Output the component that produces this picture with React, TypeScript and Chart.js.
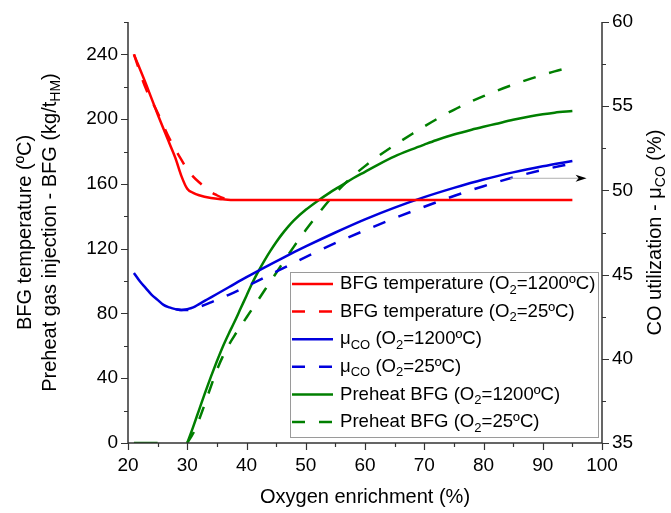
import React, { useEffect, useRef } from 'react';
import { Chart, registerables } from 'chart.js';

Chart.register(...registerables);

// ---------- DATA ----------
const redSolidX = [21, 23, 25, 27, 28, 29, 30, 31, 32, 34, 36, 38, 45, 55, 65, 75, 85, 95];
const redSolidY = [240, 222, 203, 185, 176, 165, 157, 154.5, 153, 151.3, 150.5, 150, 150, 150, 150, 150, 150, 150];

const redDashX = [21, 23, 25, 27, 29, 30, 31, 32, 33, 34, 35, 36, 37];
const redDashY = [240, 219, 204, 188, 175, 169, 164.5, 161, 158, 155, 153, 151.3, 150.3];

const blueSolidX = [21, 22, 23, 24, 25, 26, 27, 28, 29, 30, 31, 32, 33, 34, 35, 37, 40, 43, 46, 50, 55, 60, 65, 70, 75, 80, 85, 90, 95];
const blueSolidY = [45.1, 44.6, 44.2, 43.8, 43.5, 43.2, 43.05, 42.95, 42.9, 42.95, 43.05, 43.25, 43.45, 43.65, 43.85, 44.25, 44.85, 45.42, 45.97, 46.67, 47.5, 48.28, 48.98, 49.6, 50.15, 50.65, 51.07, 51.43, 51.75];

const blueDashX = [28, 29, 30, 32, 34, 37, 40, 44, 48, 52, 56, 60, 65, 70, 75, 80, 85, 90, 95];
const blueDashY = [42.95, 42.9, 42.9, 43.08, 43.35, 43.8, 44.3, 45.0, 45.7, 46.38, 47.03, 47.63, 48.35, 49.03, 49.67, 50.25, 50.77, 51.22, 51.6];

const greenSolidX = [21, 25, 27, 30, 31, 32, 33, 34, 35, 36, 37, 38, 39, 40, 41, 42, 43, 44, 45, 46, 47, 48, 50, 52, 54, 56, 58, 60, 62, 65, 68, 70, 72, 75, 78, 80, 82, 85, 88, 90, 92, 95];
const greenSolidY: (number | null)[] = [0, 0, null, 0, 10, 20.5, 31, 41, 50.5, 59.5, 67.5, 75, 83, 91, 99, 106, 112.5, 118.5, 124, 129, 133.5, 137.5, 144, 149.5, 154.5, 159, 163.5, 167.5, 171.5, 177, 181.5, 184.3, 187, 190.5, 193.5, 195.3, 197, 199.6, 201.8, 203, 204, 205];

const greenDashX = [30, 31, 32, 33, 34, 35, 36, 37, 38, 39, 40, 41, 42, 43, 44, 45, 46, 47, 48, 50, 52, 54, 56, 58, 60, 62, 65, 68, 70, 72, 75, 78, 80, 82, 85, 88, 90, 92, 95];
const greenDashY = [0, 6, 14.5, 24.5, 35, 45, 53.5, 60.5, 66.5, 72, 77.5, 83, 88.5, 94, 99.5, 105, 110.5, 116, 121.3, 131.5, 141, 150, 158, 165, 171, 176.5, 184, 191, 195.5, 199.8, 205.8, 211, 214.2, 217.2, 221.3, 225, 227.3, 229.5, 232.3];

const legendLabels = [
  'BFG temperature (O_{2}=1200ºC)',
  'BFG temperature (O_{2}=25ºC)',
  'μ_{CO} (O_{2}=1200ºC)',
  'μ_{CO} (O_{2}=25ºC)',
  'Preheat BFG (O_{2}=1200ºC)',
  'Preheat BFG (O_{2}=25ºC)',
];

const xTitle = 'Oxygen enrichment (%)';
const yTitle1 = 'BFG temperature (ºC)';
const yTitle2 = 'Preheat gas injection - BFG (kg/t_{HM})';
const y1Title = 'CO utilization - μ_{CO} (%)';

// arrow (points to right axis): x from / to, at right-axis value
const arrowX = [84.5, 97.4];
const arrowY = 50.72;

const RED = '#FF0000';
const BLUE = '#0000DD';
const GREEN = '#007F00';
const DASH = [13, 14];
const FONT = '"Liberation Sans", Arial, Helvetica, sans-serif';

function pts(xs: number[], ys: (number | null)[]) {
  return xs.map((x, i) => ({ x, y: ys[i] }));
}

function parseRich(s: string) {
  const parts: { t: string; sub: boolean }[] = [];
  const re = /_\{([^}]*)\}/g;
  let last = 0;
  let m: RegExpExecArray | null;
  while ((m = re.exec(s))) {
    if (m.index > last) parts.push({ t: s.slice(last, m.index), sub: false });
    parts.push({ t: m[1], sub: true });
    last = re.lastIndex;
  }
  if (last < s.length) parts.push({ t: s.slice(last), sub: false });
  return parts;
}

function drawRich(ctx: CanvasRenderingContext2D, s: string, x: number, y: number, size: number, align: 'left' | 'center') {
  const parts = parseRich(s);
  const f = (sub: boolean) => `${sub ? Math.round(size * 0.72) : size}px ${FONT}`;
  let w = 0;
  for (const p of parts) {
    ctx.font = f(p.sub);
    w += ctx.measureText(p.t).width;
  }
  let cx = align === 'center' ? x - w / 2 : x;
  ctx.textAlign = 'left';
  ctx.textBaseline = 'middle';
  for (const p of parts) {
    ctx.font = f(p.sub);
    ctx.fillText(p.t, cx, p.sub ? y + size * 0.32 : y);
    cx += ctx.measureText(p.t).width;
  }
}

const decorPlugin = {
  id: 'decor',
  afterDraw(chart: any) {
    const { ctx, chartArea: ca, scales } = chart;
    const sx = scales.x, sy = scales.y, sy1 = scales.y1;
    ctx.save();
    // axis lines
    ctx.strokeStyle = '#333';
    ctx.lineWidth = 1.5;
    ctx.setLineDash([]);
    ctx.beginPath();
    ctx.moveTo(ca.left, ca.top);
    ctx.lineTo(ca.left, ca.bottom);
    ctx.lineTo(ca.right, ca.bottom);
    ctx.moveTo(ca.right, ca.top);
    ctx.lineTo(ca.right, ca.bottom);
    ctx.stroke();
    // ticks
    ctx.lineWidth = 1.2;
    ctx.beginPath();
    for (let v = 20; v <= 100; v += 5) {
      const p = Math.round(sx.getPixelForValue(v)) + 0.5;
      const len = v % 10 === 0 ? 7 : 4;
      ctx.moveTo(p, ca.bottom);
      ctx.lineTo(p, ca.bottom + len);
    }
    for (let v = 0; v <= 260; v += 20) {
      const p = Math.round(sy.getPixelForValue(v)) + 0.5;
      const len = v % 40 === 0 ? 7 : 4;
      ctx.moveTo(ca.left, p);
      ctx.lineTo(ca.left - len, p);
    }
    for (let v = 35; v <= 60; v += 2.5) {
      const p = Math.round(sy1.getPixelForValue(v)) + 0.5;
      const len = v % 5 === 0 ? 7 : 4;
      ctx.moveTo(ca.right, p);
      ctx.lineTo(ca.right + len, p);
    }
    ctx.stroke();

    // arrow
    const ax0 = sx.getPixelForValue(arrowX[0]);
    const ax1 = sx.getPixelForValue(arrowX[1]);
    const ay = sy1.getPixelForValue(arrowY);
    ctx.strokeStyle = '#b0b0b0';
    ctx.lineWidth = 1;
    ctx.beginPath();
    ctx.moveTo(ax0, ay);
    ctx.lineTo(ax1 - 8, ay);
    ctx.stroke();
    ctx.fillStyle = '#000';
    ctx.beginPath();
    ctx.moveTo(ax1, ay);
    ctx.lineTo(ax1 - 11, ay - 3.5);
    ctx.lineTo(ax1 - 8, ay);
    ctx.lineTo(ax1 - 11, ay + 3.5);
    ctx.closePath();
    ctx.fill();

    // legend
    const lx = 290, ly = 272, lw = 308, lh = 165;
    ctx.fillStyle = '#fff';
    ctx.fillRect(lx, ly, lw, lh);
    ctx.strokeStyle = '#9a9a9a';
    ctx.lineWidth = 1;
    ctx.strokeRect(lx + 0.5, ly + 0.5, lw, lh);
    const dsets = chart.data.datasets;
    for (let i = 0; i < legendLabels.length; i++) {
      const ry = 284 + i * 27.6;
      const ds = dsets[i];
      ctx.strokeStyle = ds.borderColor;
      ctx.lineWidth = ds.borderWidth;
      ctx.lineCap = 'butt';
      ctx.setLineDash(ds.borderDash || []);
      ctx.lineDashOffset = 0;
      ctx.beginPath();
      ctx.moveTo(292, ry);
      ctx.lineTo(333, ry);
      ctx.stroke();
      ctx.setLineDash([]);
      ctx.fillStyle = '#000';
      drawRich(ctx, legendLabels[i], 340, ry, 18.6, 'left');
    }

    // titles
    const cy = (ca.top + ca.bottom) / 2;
    ctx.fillStyle = '#000';
    drawRich(ctx, xTitle, (ca.left + ca.right) / 2, 497, 20, 'center');
    const rot = (x: number, s: string) => {
      ctx.save();
      ctx.translate(x, cy);
      ctx.rotate(-Math.PI / 2);
      drawRich(ctx, s, 0, 0, 20, 'center');
      ctx.restore();
    };
    rot(25, yTitle1);
    rot(50, yTitle2);
    rot(655, y1Title);
    ctx.restore();
  },
};

export default function App() {
  const ref = useRef<HTMLCanvasElement | null>(null);
  useEffect(() => {
    document.body.style.margin = '0';
    const canvas = ref.current!;
    const common = { pointRadius: 0, borderWidth: 2.5, fill: false, cubicInterpolationMode: 'monotone' as const, spanGaps: false };
    const chart = new Chart(canvas, {
      type: 'line',
      data: {
        datasets: [
          { ...common, label: 'red solid', data: pts(redSolidX, redSolidY), borderColor: RED, yAxisID: 'y' },
          { ...common, label: 'red dash', data: pts(redDashX, redDashY), borderColor: RED, borderDash: DASH, yAxisID: 'y' },
          { ...common, label: 'blue solid', data: pts(blueSolidX, blueSolidY), borderColor: BLUE, yAxisID: 'y1' },
          { ...common, label: 'blue dash', data: pts(blueDashX, blueDashY), borderColor: BLUE, borderDash: DASH, yAxisID: 'y1' },
          { ...common, label: 'green solid', data: pts(greenSolidX, greenSolidY), borderColor: GREEN, yAxisID: 'y' },
          { ...common, label: 'green dash', data: pts(greenDashX, greenDashY), borderColor: GREEN, borderDash: DASH, yAxisID: 'y' },
        ] as any,
      },
      options: {
        animation: false,
        responsive: false,
        devicePixelRatio: 1,
        layout: { padding: { top: 22, left: 0, right: 0, bottom: 0 } },
        plugins: { legend: { display: false }, tooltip: { enabled: false } },
        scales: {
          x: {
            type: 'linear',
            min: 20,
            max: 100,
            grid: { display: false, drawTicks: true, tickLength: 7 },
            border: { display: false },
            ticks: { stepSize: 10, color: '#000', font: { family: FONT, size: 19 }, padding: 4, maxRotation: 0 },
            afterFit: (s: any) => { s.height = 70; },
          },
          y: {
            type: 'linear',
            position: 'left',
            min: 0,
            max: 260,
            grid: { display: false, drawTicks: true, tickLength: 7 },
            border: { display: false },
            ticks: {
              stepSize: 40,
              includeBounds: false,
              color: '#000',
              font: { family: FONT, size: 19 },
              padding: 3,
              callback: (v: any) => (Number(v) % 40 === 0 ? String(v) : ''),
            },
            afterFit: (s: any) => { s.width = 128; },
          },
          y1: {
            type: 'linear',
            position: 'right',
            min: 35,
            max: 60,
            grid: { display: false, drawTicks: true, tickLength: 7 },
            border: { display: false },
            ticks: { stepSize: 5, color: '#000', font: { family: FONT, size: 19 }, padding: 3 },
            afterFit: (s: any) => { s.width = 69; },
          },
        },
      } as any,
      plugins: [decorPlugin],
    });
    return () => chart.destroy();
  }, []);
  return (
    <div style={{ position: 'absolute', left: 0, top: 0, width: 671, height: 513, background: '#fff' }}>
      <canvas ref={ref} width={671} height={513} />
    </div>
  );
}
